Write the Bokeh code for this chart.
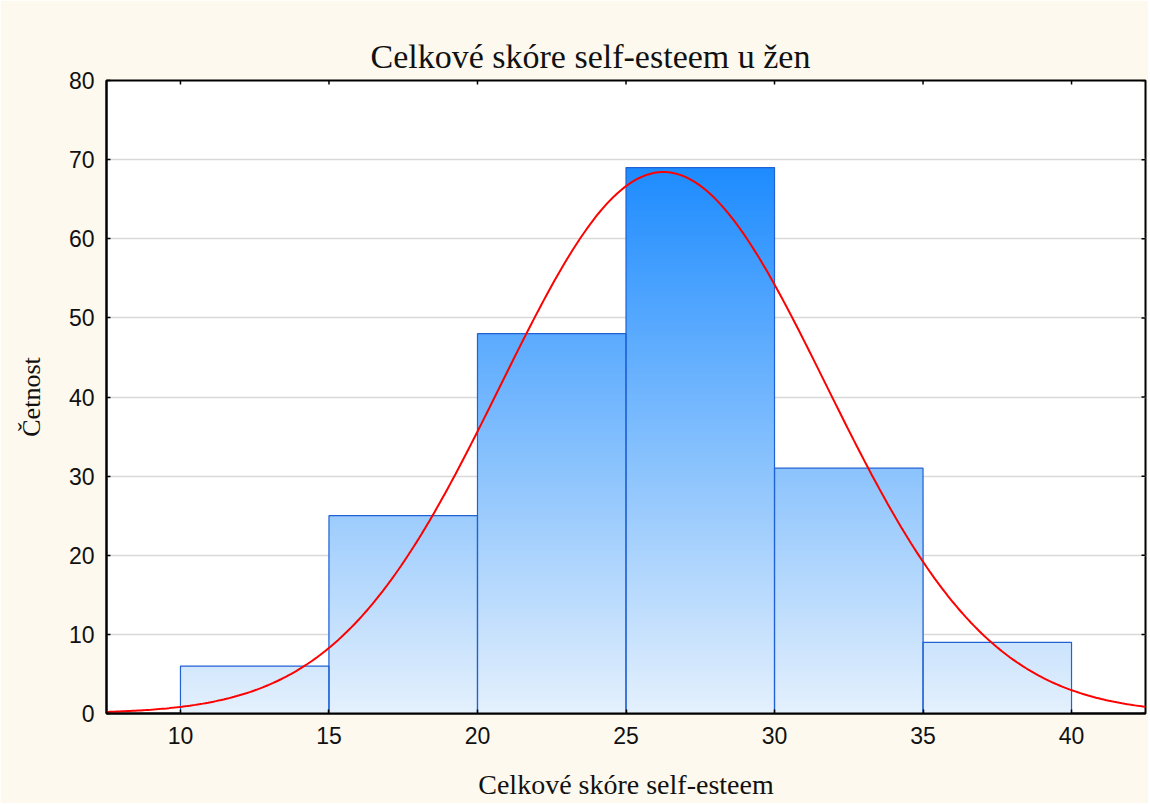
import numpy as np
from bokeh.plotting import figure
from bokeh.models import Range1d, FixedTicker
from bokeh.embed import file_html
from bokeh.resources import INLINE

# ---- data ----
bin_left = [10, 15, 20, 25, 30, 35]
bin_right = [15, 20, 25, 30, 35, 40]
counts = [6, 25, 48, 69, 31, 9]
x_ticks = [10, 15, 20, 25, 30, 35, 40]
y_ticks = [0, 10, 20, 30, 40, 50, 60, 70, 80]
fit_mean = 26.26
fit_sd = 5.48
n_total = sum(counts)
bin_width = 5

title_text = "Celkové skóre self-esteem u žen"
x_label = "Celkové skóre self-esteem"
y_label = "Četnost"

SERIF = "Liberation Serif"
SANS = "Liberation Sans"

X0, X1 = 7.51, 42.49
Y0, Y1 = 0, 80

p = figure(width=1148, height=803,
           x_range=Range1d(X0, X1), y_range=Range1d(Y0, Y1),
           output_backend="svg", toolbar_location=None,
           background_fill_color="white", border_fill_color="#FDF9EE",
           min_border_left=106, min_border_right=3,
           min_border_top=80, min_border_bottom=90)

p.title.text = title_text
p.title.align = "left"
p.title.offset = 264
p.title.vertical_align = "middle"
p.title.text_font = SERIF
p.title.text_font_size = "34px"
p.title.text_font_style = "normal"
p.title.text_color = "#111111"

p.outline_line_color = "black"
p.outline_line_width = 2

p.xgrid.visible = False
p.ygrid.ticker = FixedTicker(ticks=y_ticks[1:-1])
p.ygrid.grid_line_color = "#D9D9D9"
p.ygrid.grid_line_width = 1.5

# ---- gradient bars (overlapping slices, no seams) ----
bottom_rgb = np.array([229, 241, 253])
top_rgb = np.array([30, 140, 255])
ymax = max(counts)
step = 0.25
L, R, T, C = [], [], [], []
for l, r, c in zip(bin_left, bin_right, counts):
    tops = np.arange(c, 0, -step)  # descending: tallest slice first
    for t_ in tops:
        frac = (t_ - step / 2) / ymax
        rgb = np.clip(bottom_rgb + (top_rgb - bottom_rgb) * frac, 0, 255).astype(int)
        L.append(l); R.append(r); T.append(float(t_))
        C.append("#%02x%02x%02x" % tuple(rgb))
p.quad(left=L, right=R, bottom=[0] * len(L), top=T, fill_color=C, line_color=None)
p.quad(left=bin_left, right=bin_right, bottom=[0] * len(counts), top=counts,
       fill_color=None, line_color="#2062D4", line_width=1.2)

# ---- fitted normal curve ----
xs = np.linspace(X0, X1, 400)
ys = n_total * bin_width / (fit_sd * np.sqrt(2 * np.pi)) * np.exp(-0.5 * ((xs - fit_mean) / fit_sd) ** 2)
p.line(xs, ys, line_color="#FF0000", line_width=2)

# ---- inward tick marks on top and right frame edges ----
tick_dy = 4 / 633 * (Y1 - Y0)
tick_dx = 4 / 1039 * (X1 - X0)
p.segment(x0=x_ticks, y0=[Y1] * len(x_ticks), x1=x_ticks, y1=[Y1 - tick_dy] * len(x_ticks),
          line_color="black", line_width=1.5)
p.segment(x0=[X1] * len(y_ticks), y0=y_ticks, x1=[X1 - tick_dx] * len(y_ticks), y1=y_ticks,
          line_color="black", line_width=1.5)

# ---- axes ----
for ax in (p.xaxis[0], p.yaxis[0]):
    ax.axis_line_color = "black"
    ax.axis_line_width = 2
    ax.major_tick_in = 4
    ax.major_tick_out = 0
    ax.major_tick_line_color = "black"
    ax.major_tick_line_width = 1.5
    ax.minor_tick_line_color = None
    ax.major_label_text_font = SANS
    ax.major_label_text_font_size = "23px"
    ax.major_label_text_color = "#111111"
    ax.axis_label_text_font = SERIF
    ax.axis_label_text_font_style = "normal"
    ax.axis_label_text_color = "#111111"

p.xaxis[0].axis_label_text_font_size = "28px"
p.yaxis[0].axis_label_text_font_size = "26px"
p.xaxis[0].ticker = FixedTicker(ticks=x_ticks)
p.yaxis[0].ticker = FixedTicker(ticks=y_ticks)
p.xaxis[0].axis_label = x_label
p.yaxis[0].axis_label = y_label
p.xaxis[0].major_label_standoff = 13
p.yaxis[0].major_label_standoff = 12
p.xaxis[0].axis_label_standoff = 22
p.yaxis[0].axis_label_standoff = 20

open("out.html", "w").write(file_html(p, INLINE))
